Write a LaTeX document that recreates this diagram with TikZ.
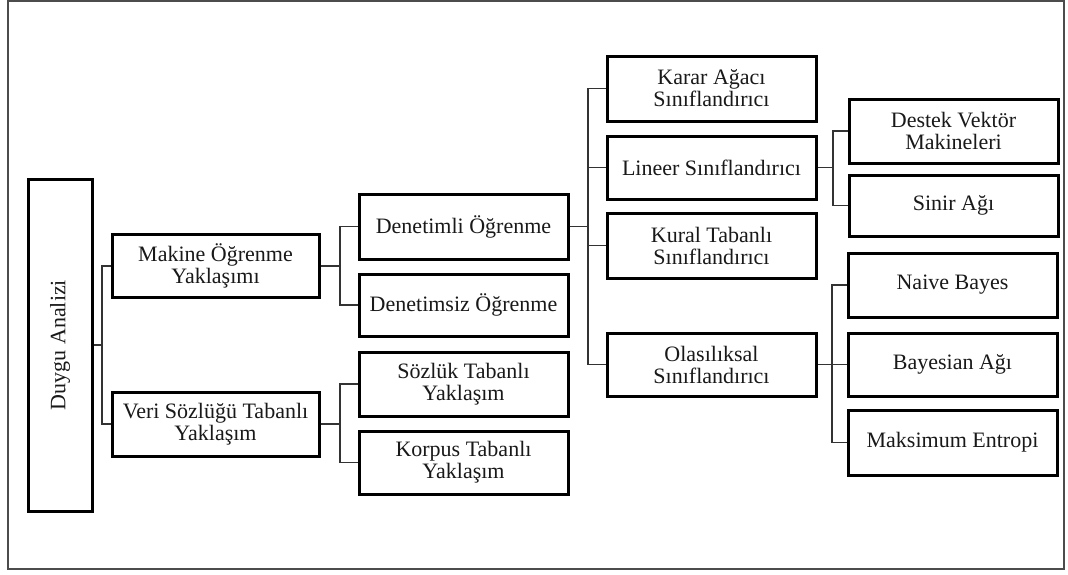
\documentclass[tikz,border=0pt]{standalone}
\usepackage{fontspec}
\setmainfont{Liberation Serif}
\begin{document}
\begin{tikzpicture}[x=1pt,y=-1pt,
  box/.style={draw=black,line width=3pt,minimum width=208pt,minimum height=63pt,
    inner sep=0pt,align=center,text=black!90,
    font=\fontsize{22}{22}\selectfont},
  link/.style={draw=black!80,line width=1.1pt}]
  % page and frame
  \useasboundingbox (0,0) rectangle (1068,574);
  \fill[white] (0,0) rectangle (1068,574);
  \draw[draw=black!70,line width=1.7pt] (8,1) rectangle (1064,569);

  % root
  \node[box,minimum width=64pt,minimum height=332pt] (root) at (60,345) {};
  \node[rotate=90,text=black!90,font=\fontsize{22}{22}\selectfont] (roottxt) at (root.center) {Duygu Analizi};

  % second level
  \node[box,minimum width=207pt] (mak) at (215.5,266) {Makine Öğrenme\\Yaklaşımı};
  \node[box,minimum width=207pt,minimum height=64pt] (veri) at (215.5,424) {Veri Sözlüğü Tabanlı\\Yaklaşım};

  % third level
  \node[box,minimum width=209pt,minimum height=65pt] (den) at (463.5,226.5) {Denetimli Öğrenme};
  \node[box,minimum width=209pt,minimum height=62pt] (dsz) at (463.5,305) {Denetimsiz Öğrenme};
  \node[box,minimum width=209pt,minimum height=64pt] (soz) at (463.5,384) {Sözlük Tabanlı\\Yaklaşım};
  \node[box,minimum width=209pt,minimum height=63pt] (kor) at (463.5,462.5) {Korpus Tabanlı\\Yaklaşım};

  % classifiers
  \node[box,minimum width=209pt,minimum height=65pt] (karar) at (711.5,88.5) {Karar Ağacı\\Sınıflandırıcı};
  \node[box,minimum width=209pt,minimum height=63pt] (lin) at (711.5,167.5) {Lineer Sınıflandırıcı};
  \node[box,minimum width=209pt,minimum height=65pt] (kural) at (711.5,245.5) {Kural Tabanlı\\Sınıflandırıcı};
  \node[box,minimum width=209pt,minimum height=63pt] (ola) at (711.5,364.5) {Olasılıksal\\Sınıflandırıcı};

  % leaves
  \node[box,minimum width=209pt,minimum height=64pt] (destek) at (953.5,131) {Destek Vektör\\Makineleri};
  \node[box,minimum width=209pt,minimum height=61pt] (sinir) at (953.5,205.5) {Sinir Ağı};
  \node[box,minimum width=209pt,minimum height=64pt] (naive) at (952.5,285) {Naive Bayes};
  \node[box,minimum width=209pt,minimum height=63pt] (bayes) at (952.5,364.5) {Bayesian Ağı};
  \node[box,minimum width=209pt,minimum height=65pt] (maks) at (952.5,442.5) {Maksimum Entropi};

  % bus lines
  \coordinate (b0) at (102,345);
  \draw[link] (root.east) -- (b0);
  \draw[link] (mak.west) -| (b0) |- (veri.west);

  \coordinate (b1) at (340,266);
  \draw[link] (mak.east) -- (b1);
  \draw[link] (den.west) -| (b1) |- (dsz.west);
  \coordinate (b2) at (340,424);
  \draw[link] (veri.east) -- (b2);
  \draw[link] (soz.west) -| (b2) |- (kor.west);

  \coordinate (b3) at (588,226.5);
  \draw[link] (den.east) -- (b3);
  \draw[link] (karar.west) -| (b3) |- (ola.west);
  \draw[link] (lin.west) -- (lin.west -| b3);
  \draw[link] (kural.west) -- (kural.west -| b3);

  \coordinate (b4) at (833,167.5);
  \draw[link] (lin.east) -- (b4);
  \draw[link] (destek.west) -| (b4) |- (sinir.west);

  \coordinate (b5) at (832,364.5);
  \draw[link] (ola.east) -- (bayes.west);
  \draw[link] (naive.west) -| (b5) |- (maks.west);
\end{tikzpicture}
\end{document}
